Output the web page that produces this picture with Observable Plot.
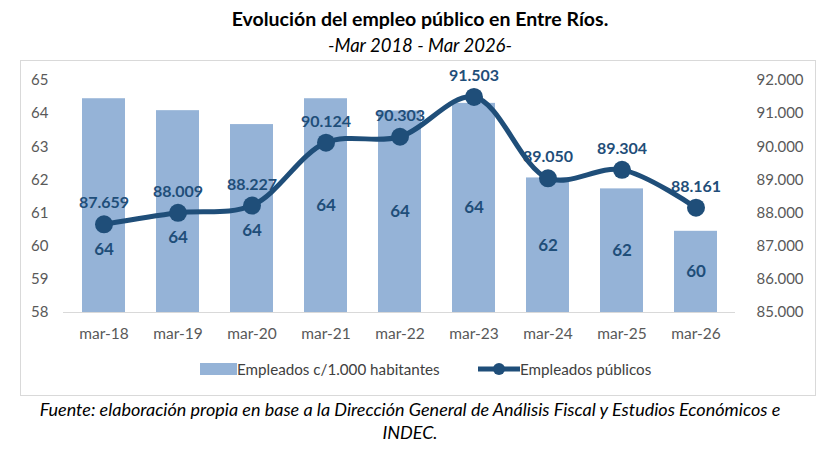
<!DOCTYPE html>
<html><head><meta charset="utf-8">
<script src="https://cdn.jsdelivr.net/npm/d3@7"></script>
<script src="https://cdn.jsdelivr.net/npm/@observablehq/plot@0.6"></script>
<style>
body{margin:0;width:840px;height:451px;background:#fff;font-family:Lato,"Open Sans",sans-serif;position:relative;overflow:hidden}
#title{position:absolute;top:7px;left:0;width:840px;text-align:center;font-weight:bold;font-size:19.5px;color:#000}
#subtitle{position:absolute;top:34px;left:0;width:840px;text-align:center;font-style:italic;font-size:18.5px;color:#000}
#box{position:absolute;left:20px;top:60px;width:796px;height:336px;border:1px solid #d9d9d9;box-sizing:border-box}
#chart{position:absolute;left:20px;top:60px}
#legend{position:absolute;left:0;top:359px;width:840px;font-size:15.2px;color:#404040}
#legend .it{position:absolute;top:0;display:flex;align-items:center;height:20px}
#caption{position:absolute;top:398px;left:0;width:820px;text-align:center;font-style:italic;font-size:18px;line-height:23px;color:#000}
</style></head>
<body>
<div id="title">Evolución del empleo público en Entre Ríos.</div>
<div id="subtitle">-Mar 2018 - Mar 2026-</div>
<div id="box"></div>
<div id="chart"></div>
<div id="legend">
  <div class="it" style="left:200px"><svg width="37" height="12"><rect x="0" y="0" width="37" height="12" fill="#95B3D7"/></svg><span>Empleados c/1.000 habitantes</span></div>
  <div class="it" style="left:478px"><svg width="42" height="14"><line x1="0" x2="42" y1="7" y2="7" stroke="#1F4E79" stroke-width="5"/><circle cx="21" cy="7" r="6" fill="#1F4E79"/></svg><span>Empleados públicos</span></div>
</div>
<div id="caption">Fuente: elaboración propia en base a la Dirección General de Análisis Fiscal y Estudios Económicos e<br>INDEC.</div>
<script>
const categories = ["mar-18","mar-19","mar-20","mar-21","mar-22","mar-23","mar-24","mar-25","mar-26"];
const perThousand = [64.45,64.09,63.67,64.45,64.08,64.31,62.06,61.73,60.45];
const publicEmployees = [87659,88009,88227,90124,90303,91503,89050,89304,88161];
const leftTicks = [58,59,60,61,62,63,64,65];
const rightTicks = [85000,86000,87000,88000,89000,90000,91000,92000];

const loc = d3.formatLocale({decimal:",", thousands:".", grouping:[3], currency:["$",""]});
const fmt = loc.format(",");
const toLeft = v => leftTicks[0] + (v - rightTicks[0]) / (rightTicks[1] - rightTicks[0]);

const data = categories.map((c,i)=>{
  const lineY = toLeft(publicEmployees[i]);
  const center = (leftTicks[0] + perThousand[i]) / 2;
  const labelY = Math.abs(center - lineY) < 1 ? lineY - 0.75 : center;
  return {cat:c, bar:perThousand[i], emp:publicEmployees[i], lineY, labelY};
});

const chart = Plot.plot({
  width: 796, height: 296,
  marginTop: 20, marginBottom: 44, marginLeft: 43, marginRight: 81,
  style: {fontFamily: "Lato, 'Open Sans', sans-serif", fontSize: "15px", color: "#595959", background: "transparent"},
  x: {domain: categories, paddingInner: 0.42, paddingOuter: 0.21, label: null},
  y: {domain: [58, 65], label: null},
  marks: [
    Plot.barY(data, {x: "cat", y1: 58, y2: "bar", fill: "#95B3D7"}),
    Plot.ruleY([58], {stroke: "#d9d9d9", strokeWidth: 1}),
    Plot.axisY(leftTicks, {anchor: "left", tickSize: 0, tickPadding: 15, label: null, fill: "#595959", fontSize: 15}),
    Plot.axisY(leftTicks, {anchor: "right", tickSize: 0, tickPadding: 21, label: null, textAnchor: "start", fill: "#595959", fontSize: 15,
      tickFormat: (t) => fmt(rightTicks[leftTicks.indexOf(t)])}),
    Plot.axisX({tickSize: 0, tickPadding: 15, label: null, fill: "#595959", fontSize: 15.5}),
    Plot.line(data, {x: "cat", y: "lineY", curve: "catmull-rom", stroke: "#1F4E79", strokeWidth: 5}),
    Plot.dot(data, {x: "cat", y: "lineY", r: 9, fill: "#1F4E79"}),
    Plot.text(data, {x: "cat", y: "lineY", text: d => fmt(d.emp), dy: -21, fill: "#1F4E79", fontWeight: "bold", fontSize: 16}),
    Plot.text(data, {x: "cat", y: "labelY", text: d => String(Math.round(d.bar)), fill: "#1F4E79", fontWeight: "bold", fontSize: 17})
  ]
});
document.getElementById("chart").appendChild(chart);
</script>
</body></html>
